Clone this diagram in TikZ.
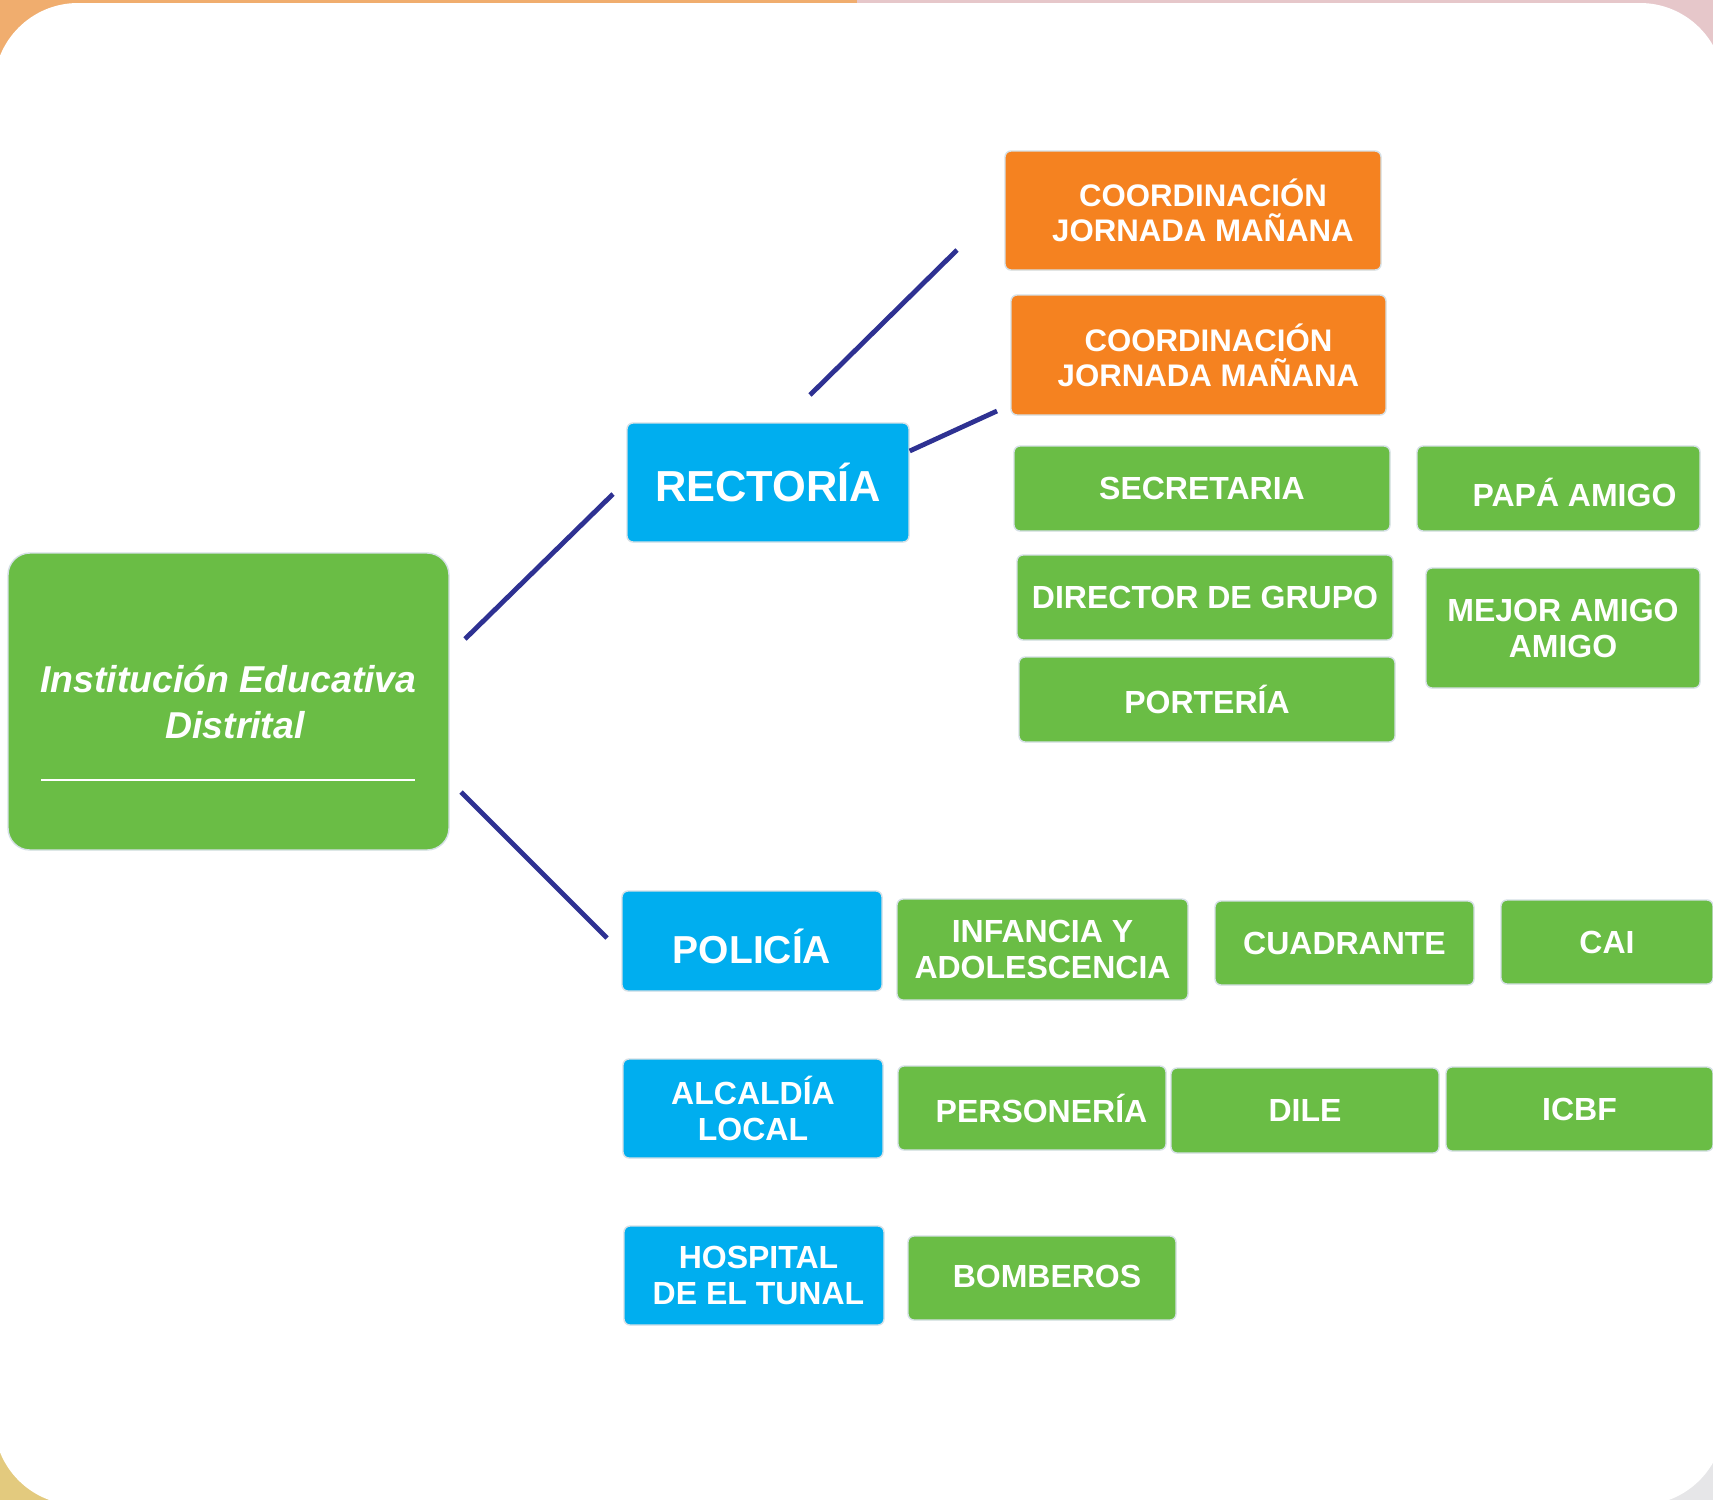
\documentclass[tikz,border=0pt]{standalone}
\usepackage{fontspec}
\setmainfont{Liberation Sans}

\definecolor{verde}{HTML}{6ABD45}
\definecolor{azul}{HTML}{00AEEF}
\definecolor{naranja}{HTML}{F58220}
\definecolor{linea}{HTML}{2E3192}
\definecolor{borde}{HTML}{D5E0E6}
\definecolor{fondoA}{HTML}{F0AD6E}
\definecolor{fondoB}{HTML}{E6C7CA}
\definecolor{fondoC}{HTML}{E3CA7E}
\definecolor{fondoD}{HTML}{E6E6E8}

% texto desplazado en vertical sin cambiar la caja
\newcommand{\bajar}[2]{\vphantom{#2}\raisebox{-#1}[0pt][0pt]{#2}}

\tikzset{
  caja/.style={rectangle, rounded corners=3pt, draw=borde, line width=0.7pt, text=white,
    align=center, inner sep=0pt, font=\bfseries\fontsize{16}{18}\selectfont},
  cajaverde/.style={caja, fill=verde},
  cajaazul/.style={caja, fill=azul},
  cajanaranja/.style={caja, fill=naranja, font=\bfseries\fontsize{15.6}{17.5}\selectfont},
  conector/.style={draw=linea, line width=2.4pt}
}

\begin{document}
\begin{tikzpicture}[x=0.5pt, y=-0.5pt]
  \useasboundingbox (0,0) rectangle (1713,1500);
  \clip (0,0) rectangle (1713,1500);
  % fondo
  \fill[fondoA] (0,0) rectangle (857,750);
  \fill[fondoB] (857,0) rectangle (1713,750);
  \fill[fondoC] (0,750) rectangle (857,1500);
  \fill[fondoD] (857,750) rectangle (1713,1500);
  \fill[white, rounded corners=42pt] (-6,3) rectangle (1724,1505);

  % nodo principal
  \node[cajaverde, rounded corners=11pt, minimum width=220.5pt, minimum height=148.5pt,
    font=\bfseries\itshape\fontsize{18.7}{23}\selectfont] (institucion) at (228.5,701.5) {Institución Educativa\\\hspace*{6.5pt}Distrital};
  \draw[white, line width=1.2pt] (41,780) -- (415,780);

  % rectoria
  \node[cajaazul, minimum width=141pt, minimum height=59.5pt, font=\bfseries\fontsize{21.7}{24}\selectfont] (rectoria) at (768,482.5) {RECTORÍA};
  \node[cajanaranja, minimum width=188pt, minimum height=59.5pt] (coordA) at (1193,210.5) {\hspace*{10pt}COORDINACIÓN\\\hspace*{10pt}JORNADA MAÑANA};
  \node[cajanaranja, minimum width=187.5pt, minimum height=60pt] (coordB) at (1198.5,355) {\hspace*{10pt}COORDINACIÓN\\\hspace*{10pt}JORNADA MAÑANA};
  \node[cajaverde, minimum width=188pt, minimum height=42.5pt] (secretaria) at (1202,488.5) {SECRETARIA};
  \node[cajaverde, minimum width=141.5pt, minimum height=42.5pt] (papa) at (1558.5,488.5) {\hspace*{16pt}\bajar{2.2pt}{PAPÁ AMIGO}};
  \node[cajaverde, minimum width=188pt, minimum height=42.5pt] (director) at (1205,597.5) {DIRECTOR DE GRUPO};
  \node[cajaverde, minimum width=137pt, minimum height=60pt] (mejor) at (1563,628) {MEJOR AMIGO\\AMIGO};
  \node[cajaverde, minimum width=188pt, minimum height=42.5pt] (porteria) at (1207,699.5) {PORTERÍA};

  % policia
  \node[cajaazul, minimum width=130pt, minimum height=50pt, font=\bfseries\fontsize{19.5}{22}\selectfont] (policia) at (752,941) {\bajar{2.8pt}{POLICÍA}};
  \node[cajaverde, minimum width=145.5pt, minimum height=50.5pt] (infancia) at (1042.5,949.5) {INFANCIA Y\\ADOLESCENCIA};
  \node[cajaverde, minimum width=129.5pt, minimum height=42pt] (cuadrante) at (1344.5,943) {CUADRANTE};
  \node[cajaverde, minimum width=106pt, minimum height=42pt] (cai) at (1607,942) {CAI};

  % alcaldia
  \node[cajaazul, minimum width=130pt, minimum height=49.5pt] (alcaldia) at (753,1108.5) {ALCALDÍA\\LOCAL};
  \node[cajaverde, minimum width=134pt, minimum height=42pt] (personeria) at (1032,1108) {\hspace*{9.5pt}PERSONERÍA};
  \node[cajaverde, minimum width=134pt, minimum height=42.5pt] (dile) at (1305,1110.5) {DILE};
  \node[cajaverde, minimum width=133.5pt, minimum height=42pt] (icbf) at (1579.5,1109) {ICBF};

  % hospital
  \node[cajaazul, minimum width=130pt, minimum height=49.5pt] (hospital) at (754,1275.5) {\hspace*{4.5pt}HOSPITAL\\\hspace*{4.5pt}DE EL TUNAL};
  \node[cajaverde, minimum width=134pt, minimum height=42pt] (bomberos) at (1042,1278) {\hspace*{5pt}\bajar{-1pt}{BOMBEROS}};

  % conectores
  \coordinate (c1) at (465,639);
  \coordinate (c2) at (613,494);
  \coordinate (c3) at (461,792);
  \coordinate (c4) at (607,938);
  \coordinate (c5) at (810,395);
  \coordinate (c6) at (957,250);
  \coordinate (c7) at (997,411);
  \draw[conector] (c1) -- (c2);
  \draw[conector] (c3) -- (c4);
  \draw[conector] (c5) -- (c6);
  \draw[conector] (rectoria.east |- 0,451) -- (c7);
\end{tikzpicture}
\end{document}
